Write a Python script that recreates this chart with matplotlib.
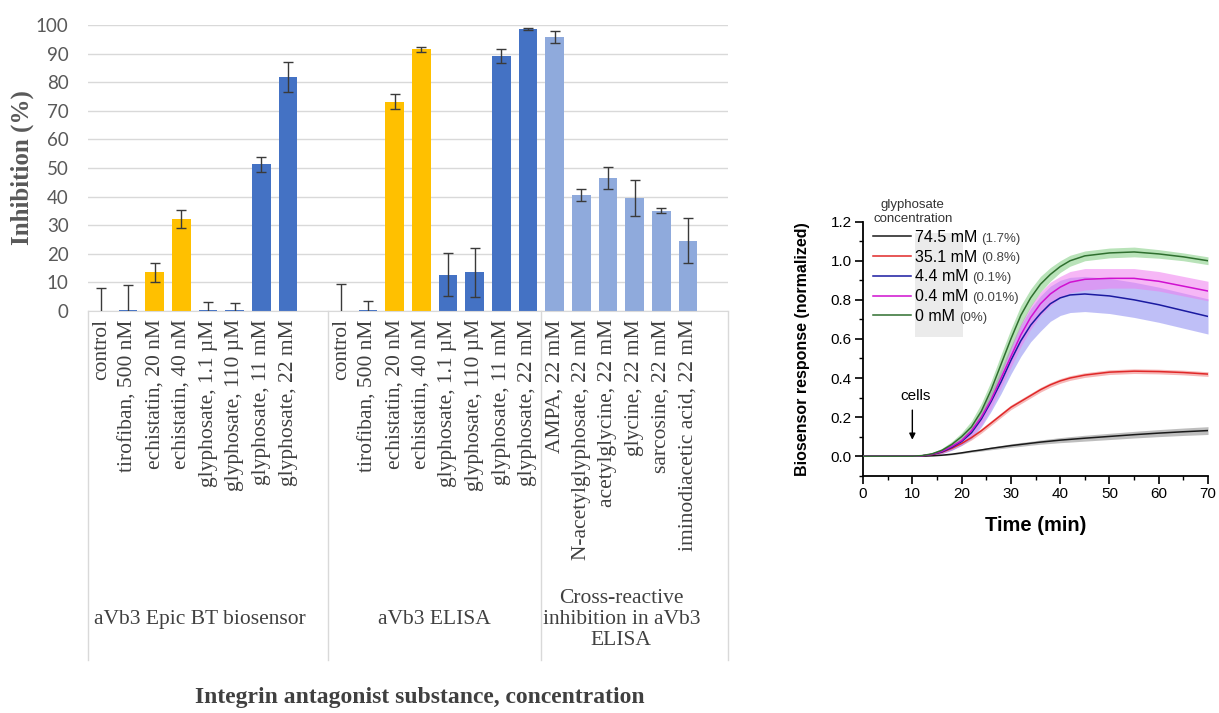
import numpy as np
import matplotlib
matplotlib.use('Agg')
import matplotlib.pyplot as plt
import matplotlib.transforms as mtransforms
from matplotlib.patches import Rectangle

# --- left panel: inhibition bar chart ---
group_names = ['aVb3 Epic BT biosensor', 'aVb3 ELISA',
               'Cross-reactive\ninhibition in aVb3\nELISA']

epic_labels = ['control', 'tirofiban, 500 nM', 'echistatin, 20 nM', 'echistatin, 40 nM',
               'glyphosate, 1.1 µM', 'glyphosate, 110 µM', 'glyphosate, 11 mM',
               'glyphosate, 22 mM']
epic_vals = [0, 0.5, 13.5, 32.2, 0.3, 0.3, 51.3, 81.9]
epic_err = [8.1, 8.6, 3.2, 3.1, 3.0, 2.6, 2.7, 5.3]

elisa_labels = ['control', 'tirofiban, 500 nM', 'echistatin, 20 nM', 'echistatin, 40 nM',
                'glyphosate, 1.1 µM', 'glyphosate, 110 µM', 'glyphosate, 11 mM',
                'glyphosate, 22 mM']
elisa_vals = [0, 0.3, 73.2, 91.5, 12.7, 13.5, 89.2, 98.5]
elisa_err = [9.3, 3.3, 2.6, 0.9, 7.5, 8.6, 2.5, 0.3]

cross_labels = ['AMPA, 22 mM', 'N-acetylglyphosate, 22 mM', 'acetylglycine, 22 mM',
                'glycine, 22 mM', 'sarcosine, 22 mM', 'iminodiacetic acid, 22 mM']
cross_vals = [95.7, 40.6, 46.6, 39.4, 35.0, 24.6]
cross_err = [2.1, 2.2, 3.8, 6.3, 0.9, 7.8]

# --- right panel: biosensor kinetics ---
time_min = [0, 10, 12, 14, 16, 18, 20, 22, 24, 26, 28, 30, 32, 34, 36, 38, 40, 42, 45,
            50, 55, 60, 65, 70]
resp_745 = [0, 0, 0, 0.002, 0.005, 0.01, 0.017, 0.025, 0.032, 0.04, 0.047, 0.054, 0.06,
            0.066, 0.072, 0.077, 0.082, 0.086, 0.092, 0.101, 0.11, 0.118, 0.125, 0.131]
sd_745 = [0, 0, 0, 0.001, 0.002, 0.003, 0.004, 0.005, 0.006, 0.007, 0.008, 0.009, 0.01,
          0.01, 0.011, 0.012, 0.013, 0.014, 0.015, 0.016, 0.017, 0.018, 0.019, 0.02]
resp_351 = [0, 0, 0.002, 0.008, 0.02, 0.04, 0.065, 0.095, 0.13, 0.17, 0.21, 0.25, 0.28,
            0.31, 0.34, 0.365, 0.385, 0.40, 0.415, 0.43, 0.435, 0.433, 0.428, 0.42]
sd_351 = [0, 0, 0.002, 0.004, 0.006, 0.008, 0.01, 0.012, 0.012, 0.012, 0.012, 0.012,
          0.012, 0.012, 0.012, 0.012, 0.012, 0.012, 0.012, 0.012, 0.012, 0.012, 0.012, 0.012]
resp_44 = [0, 0, 0.002, 0.009, 0.022, 0.045, 0.075, 0.12, 0.19, 0.28, 0.38, 0.49, 0.59,
           0.67, 0.73, 0.78, 0.81, 0.825, 0.83, 0.82, 0.80, 0.775, 0.745, 0.715]
sd_44 = [0, 0, 0.002, 0.005, 0.01, 0.015, 0.02, 0.03, 0.04, 0.05, 0.06, 0.07, 0.08,
         0.085, 0.09, 0.09, 0.09, 0.09, 0.09, 0.09, 0.09, 0.09, 0.09, 0.09]
resp_04 = [0, 0, 0.002, 0.01, 0.025, 0.05, 0.08, 0.13, 0.20, 0.29, 0.40, 0.51, 0.62,
           0.71, 0.78, 0.83, 0.865, 0.89, 0.905, 0.91, 0.91, 0.895, 0.87, 0.845]
sd_04 = [0, 0, 0.002, 0.005, 0.01, 0.015, 0.02, 0.03, 0.04, 0.045, 0.05, 0.055, 0.06,
         0.06, 0.06, 0.06, 0.055, 0.055, 0.055, 0.05, 0.05, 0.05, 0.05, 0.05]
resp_0 = [0, 0, 0.003, 0.012, 0.03, 0.06, 0.10, 0.15, 0.23, 0.34, 0.47, 0.60, 0.72,
          0.81, 0.88, 0.93, 0.97, 1.0, 1.025, 1.04, 1.045, 1.035, 1.02, 1.0]
sd_0 = [0, 0, 0.002, 0.006, 0.01, 0.015, 0.02, 0.03, 0.04, 0.045, 0.05, 0.05, 0.05,
        0.045, 0.04, 0.035, 0.03, 0.028, 0.025, 0.025, 0.025, 0.022, 0.02, 0.02]
conc_labels = ['74.5 mM', '35.1 mM', '4.4 mM', '0.4 mM', '0 mM']
conc_pct = ['(1.7%)', '(0.8%)', '(0.1%)', '(0.01%)', '(0%)']
CELLS_ADDED = 10

SERIF = 'Liberation Serif'
YELLOW, BLUE, LIGHTBLUE = '#FFC000', '#4472C4', '#8FAADC'

fig = plt.figure(figsize=(12.19, 7.13), dpi=100)

# ---------------- left bar chart ----------------
ax = fig.add_axes([0.0722, 0.5638, 0.5250, 0.4011])
group_slots = [9, 8, 7]  # categories incl. blank slots per group
groups = [(epic_labels, epic_vals, epic_err),
          (elisa_labels, elisa_vals, elisa_err),
          (cross_labels, cross_vals, cross_err)]
trans = mtransforms.blended_transform_factory(ax.transData, ax.transAxes)

all_pos, all_labels = [], []
start = 0
bounds = [-0.5]
for gi, (labels, vals, err) in enumerate(groups):
    pos = start + np.arange(len(labels))
    if gi == 2:
        colors = [LIGHTBLUE] * len(labels)
    else:
        colors = [YELLOW if l.startswith('echistatin') else BLUE for l in labels]
    ax.bar(pos, vals, width=0.69, color=colors, zorder=2)
    ax.errorbar(pos, vals, yerr=err, fmt='none', ecolor='#3a3a3a', elinewidth=1,
                capsize=3.5, capthick=1, zorder=3)
    ax.text(pos.mean() + (0.2 if gi == 0 else 0), -1.08, group_names[gi],
            ha='center', va='center', transform=trans, fontsize=15.5, family=SERIF,
            color='#404040', linespacing=1.15)
    all_pos += list(pos)
    all_labels += labels
    start += group_slots[gi]
    bounds.append(start - 0.5)

ax.set_xlim(-0.5, sum(group_slots) - 0.5)
ax.set_ylim(0, 100)
ax.set_yticks(np.arange(0, 101, 10))
ax.set_xticks(all_pos, all_labels, rotation=90, fontsize=15.5, family=SERIF,
              color='#404040')
ax.tick_params(axis='x', length=0, pad=6)
ax.tick_params(axis='y', length=0, pad=14, labelsize=13.5, labelcolor='#595959')
for t in ax.get_yticklabels():
    t.set_family('Lato')
ax.grid(axis='y', color='#D9D9D9', linewidth=1, zorder=0)
ax.set_axisbelow(True)
for s in ['top', 'right', 'left']:
    ax.spines[s].set_visible(False)
ax.spines['bottom'].set_color('#D9D9D9')
for b in bounds:
    ax.plot([b, b], [0, -1.22], color='#D9D9D9', linewidth=1, transform=trans,
            clip_on=False)
ax.set_ylabel('Inhibition (%)', fontsize=18, family=SERIF, fontweight='bold',
              color='#595959')
ax.yaxis.set_label_coords(-0.084, 0.5)
fig.text(420 / 1219, 1 - 698 / 713, 'Integrin antagonist substance, concentration',
         ha='center', va='center', fontsize=17, family=SERIF, fontweight='bold',
         color='#404040')

# ---------------- right kinetics chart ----------------
ax2 = fig.add_axes([0.708, 0.3328, 0.2830, 0.3563])
series = [(resp_745, sd_745, '#1a1a1a', '#8a8a8a'),
          (resp_351, sd_351, '#E02828', '#F08080'),
          (resp_44, sd_44, '#1A1AA0', '#8C8CF2'),
          (resp_04, sd_04, '#D010D0', '#F07CF0'),
          (resp_0, sd_0, '#2F6F2F', '#80CC80')]

ax2.add_patch(Rectangle((10.5, 0.61), 9.8, 0.53, facecolor='#EBEBEB', zorder=0.5,
                        lw=0))
t_arr = np.array(time_min)
for resp, sd, lc, bc in series:
    r, e = np.array(resp), np.array(sd)
    ax2.fill_between(t_arr, r - e, r + e, color=bc, alpha=0.55, lw=0, zorder=1)
handles = []
for (resp, sd, lc, bc), lab in zip(series, conc_labels):
    h, = ax2.plot(t_arr, resp, color=lc, lw=1.1, zorder=3, label=lab)
    handles.append(h)

ax2.set_xlim(0, 70)
ax2.set_ylim(-0.1, 1.2)
ax2.set_xticks(np.arange(0, 71, 10))
ax2.set_xticks(np.arange(0, 71, 5), minor=True)
ax2.set_yticks(np.arange(0, 1.21, 0.2))
ax2.set_yticks(np.arange(-0.1, 1.21, 0.1), minor=True)
ax2.set_yticklabels([f'{v:.1f}' for v in np.arange(0, 1.21, 0.2)])
for s in ['top', 'right']:
    ax2.spines[s].set_visible(False)
for s in ['left', 'bottom']:
    ax2.spines[s].set_linewidth(1.3)
ax2.tick_params(which='major', length=6, width=1.2, labelsize=11, pad=2)
ax2.tick_params(which='minor', length=3, width=1)
for t in ax2.get_xticklabels() + ax2.get_yticklabels():
    t.set_family('Liberation Sans')
ax2.set_xlabel('Time (min)', fontsize=14.5, fontweight='bold', family='Liberation Sans')
ax2.xaxis.set_label_coords(0.5, -0.16)
ax2.set_ylabel('Biosensor response (normalized)', fontsize=11.5, fontweight='bold',
               family='Liberation Sans')
ax2.yaxis.set_label_coords(-0.154, 0.5)

ax2.annotate('', xy=(CELLS_ADDED, 0.07), xytext=(CELLS_ADDED, 0.25),
             arrowprops=dict(arrowstyle='-|>', color='black', lw=1, mutation_scale=9))
ax2.text(CELLS_ADDED + 0.7, 0.31, 'cells', ha='center', va='center', fontsize=11,
         family='Liberation Sans')

leg = ax2.legend(handles=handles, labels=conc_labels, loc='upper left',
                 bbox_to_anchor=(0.029, 1.088), borderaxespad=0, borderpad=0,
                 frameon=False, handlelength=2.4, handletextpad=0.2,
                 labelspacing=0.3, alignment='left',
                 title='glyphosate\nconcentration',
                 prop={'family': 'Liberation Sans', 'size': 11.5},
                 title_fontproperties={'family': 'Liberation Sans', 'size': 9.5})
leg.get_title().set_multialignment('center')
leg.get_title().set_color('#333333')
for txt, pct in zip(leg.get_texts(), conc_pct):
    ax2.annotate(pct, xy=(1, 0.42), xycoords=txt, xytext=(3, 0),
                 textcoords='offset points', va='center', ha='left', fontsize=9.5,
                 color='#444444', family='Liberation Sans', zorder=10)

fig.savefig('out.png', dpi=100)
